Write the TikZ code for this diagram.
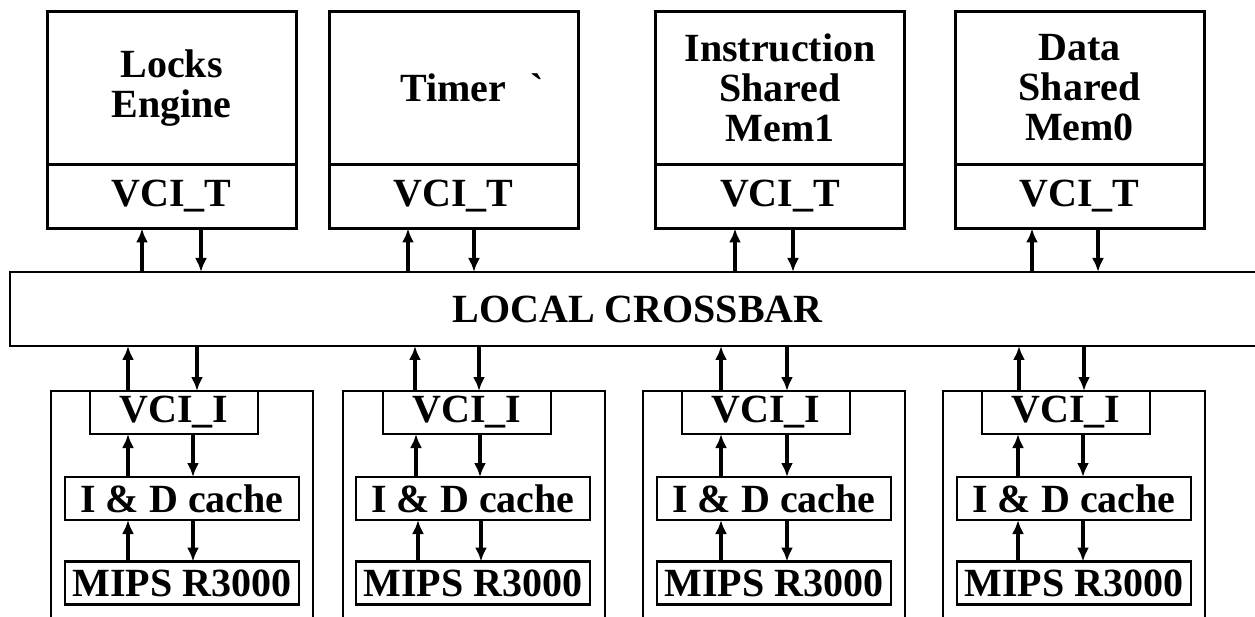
\documentclass[tikz,border=0pt]{standalone}
\usepackage{fontspec}
\setmainfont{Liberation Serif}
\usetikzlibrary{positioning,arrows.meta}
\tikzset{
	every node/.style={font=\fontsize{40}{40}\selectfont\bfseries, inner sep=0pt, outer sep=0pt},
	membox/.style={draw, line width=3pt, minimum width=249pt, minimum height=153pt, align=center},
	vcit/.style={draw, line width=3pt, minimum width=249pt, minimum height=64pt},
	cpubox/.style={draw, line width=2pt, minimum width=262pt, minimum height=249pt},
	vcii/.style={draw, line width=2.5pt, minimum width=168pt, minimum height=43pt},
	unitbox/.style={draw, line width=2.5pt, minimum width=234pt, minimum height=43pt},
	link/.style={->, line width=3.5pt}
}
\begin{document}
\begin{tikzpicture}[x=1pt, y=-1pt, >={Latex[length=14pt,width=12pt]}]
			\path[use as bounding box, clip] (0,0) rectangle (1255,617);
			% targets
			\node[membox] (lock) at (171.5,88) {Locks\\Engine};
			\node[vcit, below=0pt of lock] (lockT) {VCI\_T};
			\node[membox] (timer) at (453.5,88) {Timer\rlap{\hspace{24pt}\textasciigrave}};
			\node[vcit, below=0pt of timer] (timerT) {VCI\_T};
			\node[membox] (imem) at (780,88) {Instruction\\Shared\\Mem1};
			\node[vcit, below=0pt of imem] (imemT) {VCI\_T};
			\node[membox] (dmem) at (1079.5,88) {Data\\Shared\\Mem0};
			\node[vcit, below=0pt of dmem] (dmemT) {VCI\_T};
			% crossbar
			\node[draw, line width=2pt, minimum width=1255pt, minimum height=74pt] (xbar) at (637.5,309) {LOCAL CROSSBAR};
			\draw[link] (xbar.north -| 142,0) -- (lockT.south -| 142,0);
			\draw[link] (lockT.south -| 201,0) -- (xbar.north -| 201,0);
			\draw[link] (xbar.north -| 408,0) -- (timerT.south -| 408,0);
			\draw[link] (timerT.south -| 474,0) -- (xbar.north -| 474,0);
			\draw[link] (xbar.north -| 735,0) -- (imemT.south -| 735,0);
			\draw[link] (imemT.south -| 793,0) -- (xbar.north -| 793,0);
			\draw[link] (xbar.north -| 1032,0) -- (dmemT.south -| 1032,0);
			\draw[link] (dmemT.south -| 1098,0) -- (xbar.north -| 1098,0);
			% processors
			\node[cpubox] (cpu1) at (181.5,515.5) {};
			\node[vcii] (vci1) at (174,412.5) {VCI\_I};
			\node[unitbox] (cache1) at (182,498.5) {I \& D cache};
			\node[unitbox] (mips1) at (182,583) {MIPS R3000};
			\node[cpubox] (cpu2) at (473.5,515.5) {};
			\node[vcii] (vci2) at (467,412.5) {VCI\_I};
			\node[unitbox] (cache2) at (473,498.5) {I \& D cache};
			\node[unitbox] (mips2) at (473,583) {MIPS R3000};
			\node[cpubox] (cpu3) at (774,515.5) {};
			\node[vcii] (vci3) at (766,412.5) {VCI\_I};
			\node[unitbox] (cache3) at (774,498.5) {I \& D cache};
			\node[unitbox] (mips3) at (774,583) {MIPS R3000};
			\node[cpubox] (cpu4) at (1074,515.5) {};
			\node[vcii] (vci4) at (1066,412.5) {VCI\_I};
			\node[unitbox] (cache4) at (1074,498.5) {I \& D cache};
			\node[unitbox] (mips4) at (1074,583) {MIPS R3000};
			% column 1
			\draw[link] (vci1.north -| 128,0) -- (xbar.south -| 128,0);
			\draw[link] (xbar.south -| 197,0) -- (vci1.north -| 197,0);
			\draw[link] (cache1.north -| 128,0) -- (vci1.south -| 128,0);
			\draw[link] (vci1.south -| 193,0) -- (cache1.north -| 193,0);
			\draw[link] (mips1.north -| 128,0) -- (cache1.south -| 128,0);
			\draw[link] (cache1.south -| 193,0) -- (mips1.north -| 193,0);
			% column 2
			\draw[link] (vci2.north -| 415,0) -- (xbar.south -| 415,0);
			\draw[link] (xbar.south -| 479,0) -- (vci2.north -| 479,0);
			\draw[link] (cache2.north -| 416,0) -- (vci2.south -| 416,0);
			\draw[link] (vci2.south -| 480,0) -- (cache2.north -| 480,0);
			\draw[link] (mips2.north -| 418,0) -- (cache2.south -| 418,0);
			\draw[link] (cache2.south -| 481,0) -- (mips2.north -| 481,0);
			% column 3
			\draw[link] (vci3.north -| 721,0) -- (xbar.south -| 721,0);
			\draw[link] (xbar.south -| 787,0) -- (vci3.north -| 787,0);
			\draw[link] (cache3.north -| 721,0) -- (vci3.south -| 721,0);
			\draw[link] (vci3.south -| 787,0) -- (cache3.north -| 787,0);
			\draw[link] (mips3.north -| 721,0) -- (cache3.south -| 721,0);
			\draw[link] (cache3.south -| 787,0) -- (mips3.north -| 787,0);
			% column 4
			\draw[link] (vci4.north -| 1019,0) -- (xbar.south -| 1019,0);
			\draw[link] (xbar.south -| 1084,0) -- (vci4.north -| 1084,0);
			\draw[link] (cache4.north -| 1018,0) -- (vci4.south -| 1018,0);
			\draw[link] (vci4.south -| 1083,0) -- (cache4.north -| 1083,0);
			\draw[link] (mips4.north -| 1018,0) -- (cache4.south -| 1018,0);
			\draw[link] (cache4.south -| 1083,0) -- (mips4.north -| 1083,0);
		\end{tikzpicture}
\end{document}
